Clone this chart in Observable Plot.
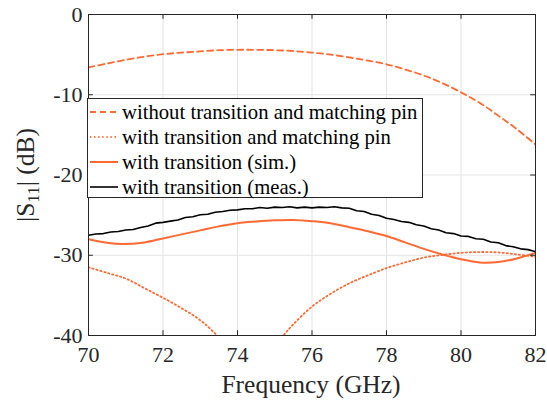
<!DOCTYPE html>
<html><head><meta charset="utf-8">
<script src="https://cdn.jsdelivr.net/npm/d3@7"></script>
<script src="https://cdn.jsdelivr.net/npm/@observablehq/plot@0.6"></script>
<style>
body{margin:0;background:#fff}
#wrap{position:relative;width:547px;height:401px;font-family:'Liberation Serif','DejaVu Serif',serif}
#wrap svg{position:absolute;left:0;top:0;font-family:'Liberation Serif','DejaVu Serif',serif !important}
#wrap svg text{font-family:'Liberation Serif','DejaVu Serif',serif !important;font-variant:normal !important}
</style>
</head><body><div id="wrap"></div>
<script>
// ---- data ----
const xTicks = [70, 72, 74, 76, 78, 80, 82];
const yTicks = [-40, -30, -20, -10, 0];
const yTickLabels = ["-40", "-30", "-20", "-10", "0"];

const freqWithout = [70,70.5,71,71.5,72,72.5,73,73.5,74,74.5,75,75.5,76,76.5,77,77.5,78,78.5,79,79.5,80,80.5,81,81.5,82];
const s11Without  = [-6.6,-6.1,-5.65,-5.25,-4.95,-4.75,-4.6,-4.45,-4.4,-4.4,-4.45,-4.55,-4.75,-5.0,-5.35,-5.75,-6.2,-6.85,-7.6,-8.55,-9.7,-11.0,-12.6,-14.3,-16.2];

const freqPin = [70,70.5,71,71.5,72,72.5,73,73.45,73.8,74.3,74.8,75.23,75.5,76,76.5,77,77.5,78,78.5,79,79.5,80,80.5,81,81.5,82];
const s11Pin  = [-31.5,-32.2,-32.9,-34.1,-35.3,-36.6,-38.1,-40,-42,-46,-42.5,-40,-38.6,-36.4,-34.8,-33.5,-32.5,-31.6,-30.9,-30.3,-29.95,-29.7,-29.6,-29.65,-29.9,-30.2];

const freqSim = [70,70.5,70.9,71.5,72,72.5,73,73.5,74,74.5,75,75.5,76,76.5,77,77.5,78,78.5,79,79.5,80,80.5,81,81.5,82];
const s11Sim  = [-28.0,-28.45,-28.6,-28.4,-27.9,-27.4,-26.9,-26.4,-26.0,-25.8,-25.65,-25.6,-25.75,-26.0,-26.5,-27.0,-27.6,-28.4,-29.2,-29.9,-30.5,-30.9,-30.85,-30.4,-29.7];

const freqMeas = [70.0,70.2,70.4,70.6,70.8,71.0,71.2,71.4,71.6,71.8,72.0,72.2,72.4,72.6,72.8,73.0,73.2,73.4,73.6,73.8,74.0,74.2,74.4,74.6,74.8,75.0,75.2,75.4,75.6,75.8,76.0,76.2,76.4,76.6,76.8,77.0,77.2,77.4,77.6,77.8,78.0,78.2,78.4,78.6,78.8,79.0,79.2,79.4,79.6,79.8,80.0,80.2,80.4,80.6,80.8,81.0,81.2,81.4,81.6,81.8,82.0];
const s11Meas  = [-27.5,-27.35,-27.3,-27.1,-27.05,-26.85,-26.8,-26.55,-26.35,-26.0,-25.9,-25.75,-25.6,-25.3,-25.2,-24.95,-24.9,-24.65,-24.55,-24.4,-24.35,-24.2,-24.2,-24.05,-24.15,-24.0,-24.05,-23.95,-24.1,-24.0,-24.1,-24.0,-24.05,-23.95,-24.1,-24.15,-24.45,-24.55,-24.9,-25.05,-25.4,-25.55,-25.8,-25.9,-26.2,-26.35,-26.7,-26.85,-27.2,-27.3,-27.6,-27.65,-27.95,-28.0,-28.35,-28.45,-28.8,-28.95,-29.2,-29.3,-29.55];

const seriesNames = [
  "without transition and matching pin",
  "with transition and matching pin",
  "with transition (sim.)",
  "with transition (meas.)"
];

// ---- styles ----
const FONT = "'Liberation Serif','DejaVu Serif',serif";
const ORANGE = "#ff6a33";
const BLACK = "#000000";
const AXIS = "#262626";
const GRID = "#e3e3e3";
const styles = [
  {stroke: ORANGE, width: 1.8, dash: "6,4"},
  {stroke: ORANGE, width: 1.8, dash: "1.3,2.8"},
  {stroke: ORANGE, width: 2, dash: null},
  {stroke: BLACK, width: 1.6, dash: null}
];

const zip = (xs, ys) => xs.map((x, i) => ({x, y: ys[i]}));
const dWithout = zip(freqWithout, s11Without);
const dPin = zip(freqPin, s11Pin);
const dSim = zip(freqSim, s11Sim);
const dMeas = zip(freqMeas, s11Meas);

const tickLenX = 0.13; // in GHz (~5px)
const tickLenY = 0.6;  // in dB (~5px)

const plot = Plot.plot({
  width: 547,
  height: 401,
  marginLeft: 88,
  marginRight: 12,
  marginTop: 14,
  marginBottom: 66,
  style: {fontFamily: FONT, fontSize: "22px", background: "white", color: AXIS},
  x: {domain: [70, 82], ticks: xTicks},
  y: {domain: [-40, 0], ticks: yTicks},
  marks: [
    Plot.ruleX(xTicks, {stroke: GRID, strokeWidth: 1}),
    Plot.ruleY(yTicks, {stroke: GRID, strokeWidth: 1}),
    Plot.axisX(xTicks, {tickSize: 0, tickPadding: 11, fontSize: 22, fontFamily: FONT, label: null, fill: AXIS, tickFormat: d => String(d)}),
    Plot.axisY(yTicks, {tickSize: 0, tickPadding: 6, fontSize: 22, fontFamily: FONT, label: null, fill: AXIS, tickFormat: d => yTickLabels[yTicks.indexOf(d)]}),
    Plot.line(dWithout, {x: "x", y: "y", stroke: styles[0].stroke, strokeWidth: styles[0].width, strokeDasharray: styles[0].dash, curve: "catmull-rom", clip: true}),
    Plot.line(dPin, {x: "x", y: "y", stroke: styles[1].stroke, strokeWidth: styles[1].width, strokeDasharray: styles[1].dash, curve: "catmull-rom", clip: true}),
    Plot.line(dSim, {x: "x", y: "y", stroke: styles[2].stroke, strokeWidth: styles[2].width, curve: "catmull-rom", clip: true}),
    Plot.line(dMeas, {x: "x", y: "y", stroke: styles[3].stroke, strokeWidth: styles[3].width, clip: true}),
    // inward ticks (MATLAB style) on all four sides
    Plot.ruleX(xTicks, {y1: -40, y2: -40 + tickLenY, stroke: AXIS}),
    Plot.ruleX(xTicks, {y1: 0, y2: -tickLenY, stroke: AXIS}),
    Plot.ruleY(yTicks, {x1: 70, x2: 70 + tickLenX, stroke: AXIS}),
    Plot.ruleY(yTicks, {x1: 82, x2: 82 - tickLenX, stroke: AXIS}),
    Plot.frame({stroke: AXIS, strokeWidth: 1})
  ]
});

const wrap = document.getElementById("wrap");
wrap.appendChild(plot);

// axis titles
const svg = d3.select(plot);
svg.append("text")
  .attr("x", 311).attr("y", 393)
  .attr("text-anchor", "middle")
  .attr("font-size", 25.5)
  .attr("fill", AXIS)
  .text("Frequency (GHz)");

const yl = svg.append("text")
  .attr("transform", "translate(34,175) rotate(-90)")
  .attr("text-anchor", "middle")
  .attr("font-size", 25.5)
  .attr("fill", AXIS);
yl.append("tspan").text("|S");
yl.append("tspan").attr("font-size", 17).attr("dy", 5).text("11");
yl.append("tspan").attr("dy", -5).text("| (dB)");

// legend overlay
const L = {left: 87, top: 98, w: 335, h: 99, row0: 14, rowStep: 25};
const leg = d3.select(wrap).append("svg")
  .attr("width", L.w + 2).attr("height", L.h + 2)
  .style("left", L.left + "px").style("top", L.top + "px");
leg.append("rect")
  .attr("x", 0.5).attr("y", 0.5).attr("width", L.w).attr("height", L.h)
  .attr("fill", "white").attr("stroke", AXIS).attr("stroke-width", 1);
seriesNames.forEach((name, i) => {
  const cy = L.row0 + i * L.rowStep;
  const s = styles[i];
  leg.append("line")
    .attr("x1", 3).attr("x2", 31).attr("y1", cy).attr("y2", cy)
    .attr("stroke", s.stroke).attr("stroke-width", s.width)
    .attr("stroke-dasharray", s.dash);
  leg.append("text")
    .attr("x", 35).attr("y", cy).attr("dy", "0.33em")
    .attr("font-size", 20.7)
    .attr("fill", BLACK)
    .text(name);
});
</script></body></html>
